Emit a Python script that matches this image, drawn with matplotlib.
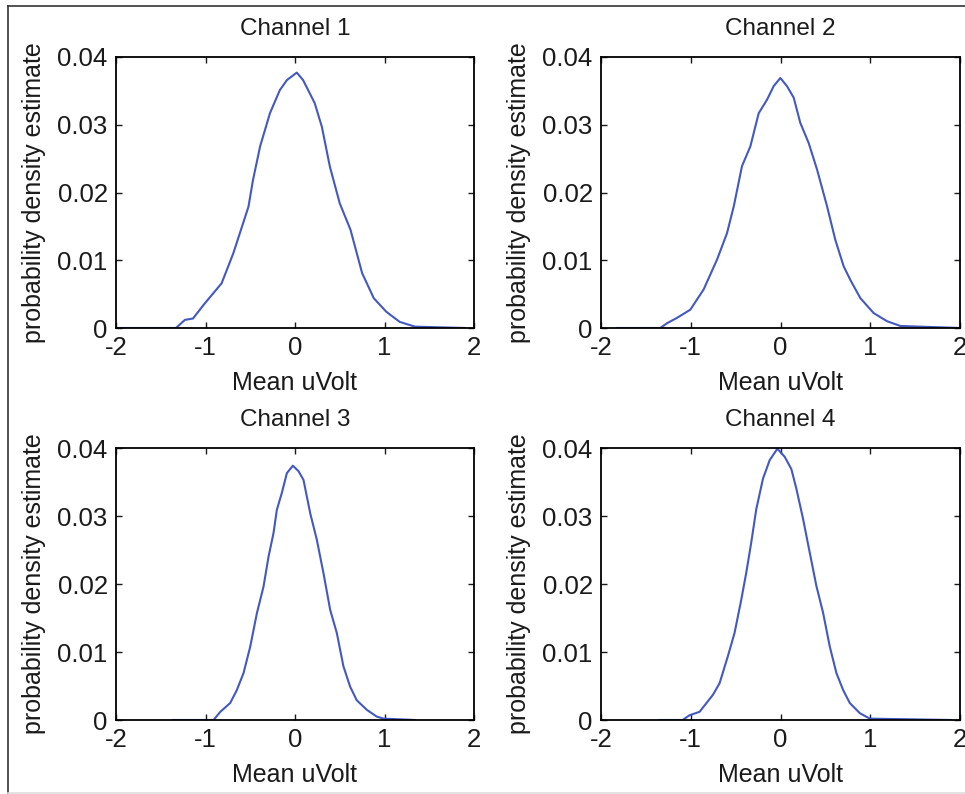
import matplotlib
matplotlib.use("Agg")
import matplotlib.pyplot as plt
from matplotlib.lines import Line2D

plt.rcParams['font.family'] = ['Liberation Sans', 'DejaVu Sans']
plt.rcParams['axes.unicode_minus'] = False

titles = ["Channel 1", "Channel 2", "Channel 3", "Channel 4"]
x_label = "Mean uVolt"
y_label = "probability density estimate"
x_ticks = [-2, -1, 0, 1, 2]
y_ticks = [0, 0.01, 0.02, 0.03, 0.04]
y_tick_labels = ["0", "0.01", "0.02", "0.03", "0.04"]

ch1_x = [-2.0, -1.33, -1.23, -1.14, -1.01, -0.82, -0.69, -0.52, -0.47, -0.39, -0.28, -0.17,
         -0.09, 0.02, 0.09, 0.22, 0.30, 0.39, 0.50, 0.62, 0.75, 0.88, 1.02, 1.17, 1.34, 1.9]
ch1_y = [0.0, 0.0, 0.0012, 0.0014, 0.0036, 0.0066, 0.011, 0.0179, 0.0218, 0.0268, 0.0317, 0.0351,
         0.0366, 0.0377, 0.0366, 0.0332, 0.0297, 0.0238, 0.0184, 0.0145, 0.0081, 0.0044, 0.0024,
         0.0009, 0.0002, 0.0]

ch2_x = [-1.82, -1.34, -1.265, -1.153, -1.005, -0.856, -0.707, -0.596, -0.52, -0.429, -0.336,
         -0.243, -0.15, -0.076, -0.002, 0.072, 0.147, 0.22, 0.314, 0.407, 0.518, 0.611, 0.704,
         0.778, 0.89, 1.038, 1.187, 1.335, 2.0]
ch2_y = [0.0, 0.0, 0.0007, 0.0015, 0.0027, 0.0057, 0.0101, 0.014, 0.018, 0.0239, 0.0268, 0.0317,
         0.0337, 0.0357, 0.0369, 0.0357, 0.034, 0.0303, 0.0273, 0.0234, 0.018, 0.013, 0.0091,
         0.0071, 0.0044, 0.0022, 0.001, 0.0003, 0.0]

ch3_x = [-1.36, -0.91, -0.835, -0.724, -0.65, -0.575, -0.5, -0.426, -0.352, -0.296, -0.24,
         -0.203, -0.147, -0.091, -0.024, 0.039, 0.095, 0.17, 0.244, 0.318, 0.393, 0.467, 0.541,
         0.616, 0.69, 0.802, 0.913, 0.99, 1.34]
ch3_y = [0.0, 0.0, 0.0012, 0.0025, 0.0044, 0.0069, 0.0108, 0.0157, 0.0196, 0.024, 0.0275, 0.0309,
         0.0334, 0.0363, 0.0374, 0.0366, 0.0353, 0.0304, 0.0265, 0.0216, 0.0162, 0.0128, 0.0079,
         0.0049, 0.0029, 0.0015, 0.0005, 0.0002, 0.0]

ch4_x = [-1.35, -1.09, -1.014, -0.902, -0.753, -0.679, -0.586, -0.512, -0.437, -0.381, -0.326,
         -0.27, -0.195, -0.121, -0.035, 0.047, 0.121, 0.177, 0.251, 0.326, 0.4, 0.474, 0.549,
         0.623, 0.698, 0.772, 0.884, 0.995, 1.9]
ch4_y = [0.0, 0.0, 0.0007, 0.0012, 0.0037, 0.0054, 0.0094, 0.0128, 0.0177, 0.0217, 0.0261, 0.031,
         0.0355, 0.0382, 0.0399, 0.0387, 0.0369, 0.034, 0.0296, 0.0246, 0.0197, 0.0158, 0.0108,
         0.0069, 0.0044, 0.0025, 0.001, 0.0002, 0.0]

series = [(ch1_x, ch1_y), (ch2_x, ch2_y), (ch3_x, ch3_y), (ch4_x, ch4_y)]

W, H = 965, 794
fig = plt.figure(figsize=(W / 100, H / 100), dpi=100)

# axes rectangles in pixels: left, top, right, bottom
boxes = [(116, 57, 474, 328), (601, 57, 960, 328),
         (116, 448, 474, 720), (601, 448, 960, 720)]

line_color = '#4458c2'
for (l, t, r, b), title, (xs, ys) in zip(boxes, titles, series):
    ax = fig.add_axes([l / W, 1 - b / H, (r - l) / W, (b - t) / H])
    ax.plot(xs, ys, color=line_color, lw=1.5)
    ax.set_xlim(-2, 2)
    ax.set_ylim(0, 0.04)
    ax.set_xticks(x_ticks)
    ax.set_xticklabels([str(v) for v in x_ticks])
    ax.set_yticks(y_ticks)
    ax.set_yticklabels(y_tick_labels)
    ax.tick_params(direction='in', top=True, right=True, length=4, width=1,
                   labelsize=18.5, pad=6, colors='#1a1a1a')
    for sp in ax.spines.values():
        sp.set_linewidth(1.3)
    ax.set_title(title, fontsize=17.5, pad=15.5, color='#1a1a1a')
    ax.set_xlabel(x_label, fontsize=18, labelpad=8, color='#1a1a1a')
    ax.set_ylabel(y_label, fontsize=18, labelpad=8, color='#1a1a1a')

# screenshot frame lines
fig.add_artist(Line2D([8 / W, 1], [1 - 6 / H, 1 - 6 / H], color='#333333', lw=1.2))
fig.add_artist(Line2D([8 / W, 8 / W], [0, 1 - 6 / H], color='#333333', lw=1.2))
fig.add_artist(Line2D([8 / W, 1], [0.6 / H, 0.6 / H], color='#dddddd', lw=1.2))

fig.savefig("out.png", dpi=100)
